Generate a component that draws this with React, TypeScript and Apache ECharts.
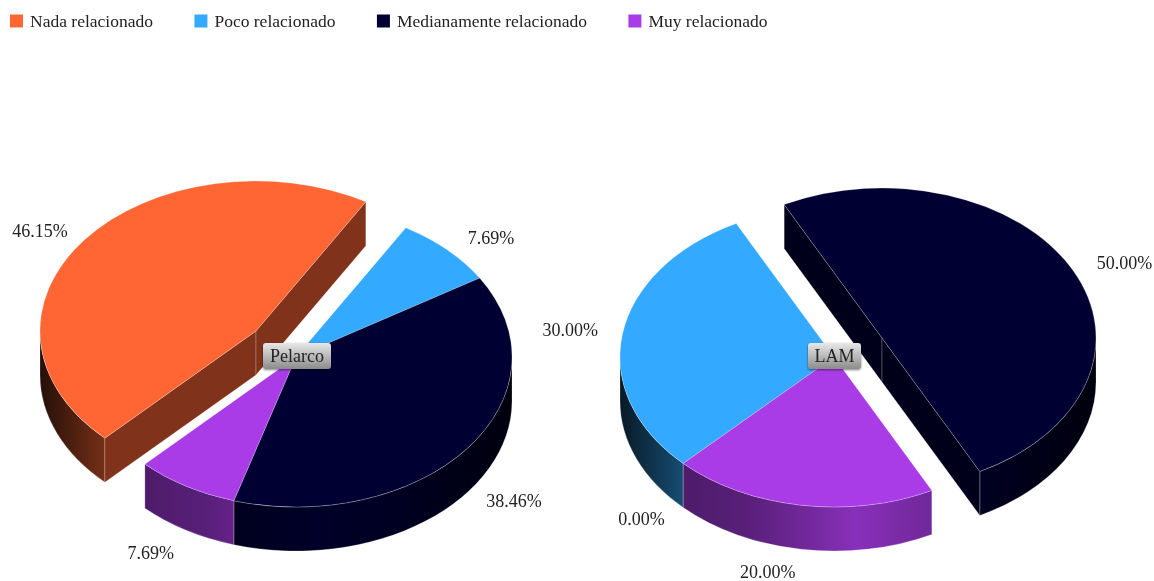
import React, { useEffect, useRef } from "react";
import * as echarts from "echarts";

const categories = ["Nada relacionado", "Poco relacionado", "Medianamente relacionado", "Muy relacionado"];
const pieTitles = ["Pelarco", "LAM"];
const pelarcoValues = [46.15, 7.69, 38.46, 7.69];
const lamValues = [0.0, 30.0, 50.0, 20.0];
const colors: number[][] = [
  [255, 102, 51],
  [51, 169, 255],
  [0, 0, 51],
  [170, 60, 232],
];

const FONT = "'Liberation Serif', 'Times New Roman', serif";
const DEPTH = 44;
const RY = 150;
const LABEL_RX = 276;
const LABEL_RY = 170;
const layouts = [
  { cx: 296, cy: 357, rx: 216, start: 224.4, explode: [0], offset: [-40, -26], labelNudge: { 0: [3, 3], 1: [2, 2], 2: [-1, -3], 3: [-5, 6] } as Record<number, number[]>, box: [263, 343, 68, 26] },
  { cx: 834, cy: 357, rx: 214, start: 224.8, explode: [2], offset: [48, -19], labelNudge: { 0: [2, -3], 1: [9, -1], 2: [-3, 3], 3: [-24, 3] } as Record<number, number[]>, box: [808, 343, 53, 26] },
];
const seriesByPie = [pelarcoValues, lamValues];

const gradientStops: number[][] = [
  [0, 0.15],
  [0.15, 0.46],
  [0.29, 0.52],
  [0.45, 0.68],
  [0.55, 0.8],
  [0.73, 0.66],
  [1, 0.25],
];

const shade = (c: number[], f: number) =>
  `rgb(${Math.round(c[0] * f)},${Math.round(c[1] * f)},${Math.round(c[2] * f)})`;

function renderSlice(catIndex: number) {
  return (params: any, api: any) => {
    const pieIndex = params.dataIndex;
    const layout = layouts[pieIndex];
    const values = seriesByPie[pieIndex];
    const total = values.reduce((a, b) => a + b, 0);
    const before = values.slice(0, catIndex).reduce((a, b) => a + b, 0);
    const value = api.value(0);
    const a0 = layout.start + (before / total) * 360;
    const a1 = a0 + (value / total) * 360;
    const exploded = layout.explode.includes(catIndex);
    const ox = exploded ? layout.offset[0] : 0;
    const oy = exploded ? layout.offset[1] : 0;
    const cx = layout.cx + ox;
    const cy = layout.cy + oy;
    const { rx } = layout;
    const pt = (deg: number, dy = 0) => {
      const r = (deg * Math.PI) / 180;
      return [cx + rx * Math.sin(r), cy - RY * Math.cos(r) + dy];
    };
    const color = colors[catIndex];
    const line = "rgba(255,255,255,0.22)";
    const children: any[] = [];

    if (value > 0) {
      // outer curved wall, front half only
      for (let k = -1; k <= 1; k++) {
        const lo = Math.max(a0, 90 + 360 * k);
        const hi = Math.min(a1, 270 + 360 * k);
        if (hi > lo) {
          const p0 = pt(lo);
          const p1 = pt(hi);
          const d = `M${p0[0]} ${p0[1]} A${rx} ${RY} 0 0 1 ${p1[0]} ${p1[1]} L${p1[0]} ${p1[1] + DEPTH} A${rx} ${RY} 0 0 0 ${p0[0]} ${p0[1] + DEPTH} Z`;
          children.push({
            type: "path",
            z2: 1,
            shape: { pathData: d },
            style: {
              fill: new echarts.graphic.LinearGradient(
                cx - rx, 0, cx + rx, 0,
                gradientStops.map(([o, f]) => ({ offset: o, color: shade(color, f) })),
                true
              ),
              stroke: line,
              lineWidth: 1,
            },
          });
        }
      }
      // radial walls of an exploded slice
      if (exploded) {
        [a0, a1].forEach((a) => {
          const p = pt(a);
          const d = `M${p[0]} ${p[1]} L${cx} ${cy} L${cx} ${cy + DEPTH} L${p[0]} ${p[1] + DEPTH} Z`;
          children.push({
            type: "path",
            z2: 1,
            shape: { pathData: d },
            style: { fill: shade(color, 0.5), stroke: line, lineWidth: 1 },
          });
        });
      }
      // top face
      const s = pt(a0);
      const e = pt(a1);
      const large = a1 - a0 > 180 ? 1 : 0;
      children.push({
        type: "path",
        z2: 2,
        shape: { pathData: `M${cx} ${cy} L${s[0]} ${s[1]} A${rx} ${RY} 0 ${large} 1 ${e[0]} ${e[1]} Z` },
        style: { fill: shade(color, 1), stroke: line, lineWidth: 1 },
      });
    }

    // percentage label
    const mid = (((a0 + a1) / 2) * Math.PI) / 180;
    const nudge = layout.labelNudge[catIndex] || [0, 0];
    const lc = Math.cos(mid);
    children.push({
      type: "text",
      z2: 3,
      x: cx + LABEL_RX * Math.sin(mid) + nudge[0],
      y: cy - LABEL_RY * lc + (lc < 0 ? DEPTH : 0) + nudge[1],
      style: {
        text: value.toFixed(2) + "%",
        fontSize: 18,
        fontFamily: FONT,
        fill: "#222",
        align: "center",
        verticalAlign: "middle",
      },
    });
    return { type: "group", children };
  };
}

export default function App() {
  const ref = useRef<HTMLDivElement>(null);
  useEffect(() => {
    document.body.style.margin = "0";
    const chart = echarts.init(ref.current!, undefined, { renderer: "svg" });
    chart.setOption({
      animation: false,
      backgroundColor: "#fff",
      legend: {
        left: 5,
        top: 7,
        itemWidth: 13,
        itemHeight: 13,
        itemGap: 41.5,
        icon: "rect",
        data: categories,
        textStyle: { fontFamily: FONT, fontSize: 17.5, color: "#222", padding: [0, 0, 0, 2] },
      },
      series: categories.map((name, i) => ({
        type: "custom",
        name,
        coordinateSystem: "none",
        itemStyle: { color: shade(colors[i], 1) },
        data: seriesByPie.map((v) => [v[i]]),
        renderItem: renderSlice(i),
      })),
      graphic: pieTitles.flatMap((title, i) => {
        const [x, y, w, h] = layouts[i].box;
        return [
          {
            type: "rect",
            z: 100,
            shape: { x, y, width: w, height: h, r: 3 },
            style: {
              fill: new echarts.graphic.LinearGradient(0, 0, 0, 1, [
                { offset: 0, color: "#e8e8e8" },
                { offset: 1, color: "#8c8c8c" },
              ]),
              shadowBlur: 2,
              shadowOffsetY: 1,
              shadowColor: "rgba(0,0,0,0.5)",
            },
          },
          {
            type: "text",
            z: 101,
            x: x + w / 2,
            y: y + h / 2,
            style: {
              text: title,
              fontSize: 18,
              fontFamily: FONT,
              fill: "#222",
              align: "center",
              verticalAlign: "middle",
            },
          },
        ];
      }),
    });
    return () => chart.dispose();
  }, []);
  return <div ref={ref} style={{ width: 1154, height: 581, filter: "blur(0.4px)" }} />;
}
